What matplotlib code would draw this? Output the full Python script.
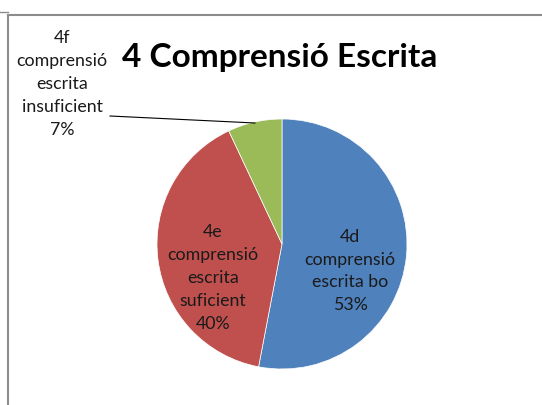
import matplotlib
matplotlib.use("Agg")
import matplotlib.pyplot as plt
from matplotlib.lines import Line2D

# chart data
labels = ["4d\ncomprensió\nescrita bo\n53%",
          "4e\ncomprensió\nescrita\nsuficient\n40%",
          "4f\ncomprensió\nescrita\ninsuficient\n7%"]
values = [53, 40, 7]
colors = ["#4F81BD", "#C0504D", "#9BBB59"]
title = "4 Comprensió Escrita"

plt.rcParams['font.family'] = ['Lato', 'DejaVu Sans']

W, H = 542, 405
fig = plt.figure(figsize=(W / 100, H / 100), dpi=100)
fig.patch.set_facecolor("white")

# pie placement in pixels: center (282, 244), radius 125
cx, cy, r = 282, 244, 125
ax = fig.add_axes([(cx - r) / W, (H - cy - r) / H, 2 * r / W, 2 * r / H])

wedges, _ = ax.pie(values, colors=colors, startangle=90, counterclock=False,
                   radius=1, wedgeprops=dict(linewidth=0.5, edgecolor="white"))
# pie() resets the limits to +-1.25, put them back
ax.set_xlim(-1, 1)
ax.set_ylim(-1, 1)
ax.set_aspect("equal")
ax.axis("off")

# data labels (positions as Excel placed them)
label_pos = [(0.544, -0.216), (-0.552, -0.272), (-1.76, 1.28)]
for lab, (x, y) in zip(labels, label_pos):
    ax.text(x, y, lab, ha="center", va="center", fontsize=12.8,
            color="#1a1a1a", linespacing=1.53, clip_on=False)

# leader line for the small slice
ax.add_line(Line2D([-1.376, -0.216], [1.024, 0.968], color="black", lw=0.8,
                   clip_on=False))

fig.text(280 / W, 1 - 57 / H, title, ha="center", va="center",
         fontsize=24, fontweight="bold", color="black")

# chart frame edges
fig.add_artist(Line2D([8 / W, 1], [1 - 15 / H, 1 - 15 / H], color="#8c8c8c", lw=1.5))
fig.add_artist(Line2D([8 / W, 8 / W], [0, 1 - 15 / H], color="#8c8c8c", lw=1.5))
fig.add_artist(Line2D([0, 8 / W], [1 - 12 / H, 1 - 12 / H], color="#8c8c8c", lw=1))

fig.savefig("out.png", dpi=100)
